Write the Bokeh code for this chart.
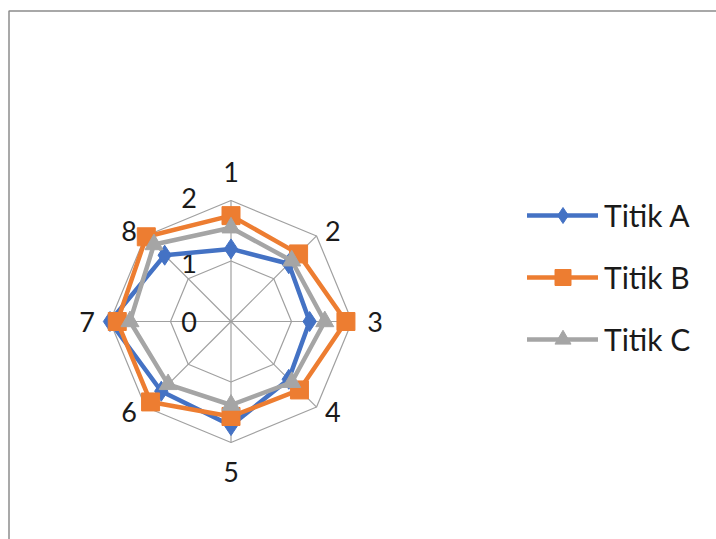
import numpy as np
from bokeh.plotting import figure
from bokeh.models import Range1d, Legend, LegendItem, BoxAnnotation
from bokeh.core.properties import value
from bokeh.embed import file_html
from bokeh.resources import INLINE

# ---- data ----
categories = ["1", "2", "3", "4", "5", "6", "7", "8"]
series_names = ["Titik A", "Titik B", "Titik C"]
titik_a = [1.2, 1.35, 1.3, 1.35, 1.72, 1.63, 2.0, 1.55]
titik_b = [1.75, 1.58, 1.9, 1.6, 1.57, 1.88, 1.88, 1.98]
titik_c = [1.55, 1.42, 1.55, 1.42, 1.38, 1.47, 1.67, 1.8]
ring_values = [0, 1, 2]
ring_labels = ["0", "1", "2"]

# ---- layout ----
W, H = 716, 539
S = 60.5            # px per unit
CX, CY = 230.5, 321  # centre in px (from top-left)
FONT = "Lato"
FS = "27px"
LFS = "30px"

p = figure(width=W, height=H, output_backend="svg", toolbar_location=None,
           x_range=Range1d(-CX / S, (W - CX) / S),
           y_range=Range1d(-(H - CY) / S, CY / S),
           min_border=0, outline_line_color=None)
p.axis.visible = False
p.grid.visible = False
p.background_fill_color = "white"
p.border_fill_color = "white"

# chart border (top and left visible)
p.add_layout(BoxAnnotation(left=-CX / S + 8.5 / S, top=CY / S - 10.5 / S,
                           right=(W - CX) / S + 1, bottom=-(H - CY) / S - 1,
                           fill_alpha=0, line_color="#8c8c8c", line_alpha=1,
                           line_width=1.5))

n = len(categories)
theta = np.arange(n) * 2 * np.pi / n
sx, cy_ = np.sin(theta), np.cos(theta)

grid_col = "#a0a0a0"
rmax = max(ring_values)
for r in ring_values[1:]:
    xs = list(r * sx) + [r * sx[0]]
    ys = list(r * cy_) + [r * cy_[0]]
    p.line(xs, ys, line_color=grid_col, line_width=1.2)
p.segment(x0=[0] * n, y0=[0] * n, x1=list(rmax * sx), y1=list(rmax * cy_),
          line_color=grid_col, line_width=1.2)

# category labels
p.text(x=list(rmax * sx), y=list(rmax * cy_), text=categories,
       x_offset=list(23 * sx), y_offset=list(-29 * cy_ ** 5),
       text_align="center", text_baseline="middle",
       text_font=value(FONT), text_font_size=FS, text_color="#1a1a1a")

# scale labels
p.text(x=[0] * len(ring_values), y=ring_values, text=ring_labels, x_offset=-34,
       y_offset=[0, 2, -3],
       text_align="right", text_baseline="middle",
       text_font=value(FONT), text_font_size=FS, text_color="#1a1a1a")

colors = ["#4472C4", "#ED7D31", "#A5A5A5"]
markers = ["diamond", "square", "triangle"]
sizes = [20, 18, 18]
items = []
for name, vals, col, mk, sz in zip(series_names, [titik_a, titik_b, titik_c],
                                   colors, markers, sizes):
    v = np.array(vals)
    x = v * sx
    y = v * cy_
    lr = p.line(list(x) + [x[0]], list(y) + [y[0]], line_color=col, line_width=4.5,
                line_join="round", line_cap="round")
    sr = p.scatter(list(x), list(y), marker=mk, size=sz,
                   fill_color=col, line_color=col)
    items.append(LegendItem(label=name, renderers=[lr, sr]))

GH, SP = 40, 22
leg_h = 3 * GH + 2 * SP
leg_top = 215 - GH / 2
legend = Legend(items=items, location=(527, H - (leg_top + leg_h)), orientation="vertical",
                glyph_width=71, glyph_height=GH, label_height=GH, spacing=SP,
                label_standoff=6, padding=0, margin=0,
                border_line_alpha=0, background_fill_alpha=0,
                label_text_font=FONT, label_text_font_size=LFS,
                label_text_color="#1a1a1a", label_text_baseline="middle")
p.add_layout(legend)

open("out.html", "w").write(file_html(p, INLINE))
